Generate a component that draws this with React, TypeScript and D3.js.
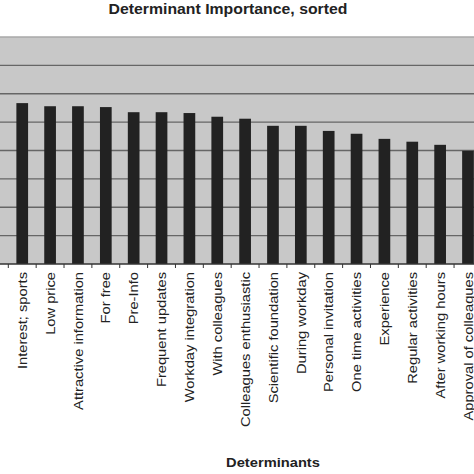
import React, { useEffect, useRef } from 'react';
import * as d3 from 'd3';

const categories: string[] = [
  'Interest; sports',
  'Low price',
  'Attractive information',
  'For free',
  'Pre-Info',
  'Frequent updates',
  'Workday integration',
  'With colleagues',
  'Colleagues enthusiastic',
  'Scientific foundation',
  'During workday',
  'Personal invitation',
  'One time activities',
  'Experience',
  'Regular activities',
  'After working hours',
  'Approval of colleagues',
];

const importance: number[] = [
  5.67, 5.56, 5.56, 5.53, 5.35, 5.35, 5.32, 5.19, 5.12, 4.87, 4.87, 4.69, 4.59, 4.41, 4.31, 4.2, 3.99,
];

const yTicks: number[] = [0, 1, 2, 3, 4, 5, 6, 7, 8];

const FONT = '"Liberation Sans", Arial, sans-serif';
const STRETCH = 1.13; // the reference text is a bit wider than Liberation Sans

const App: React.FC = () => {
  const svgRef = useRef<SVGSVGElement | null>(null);

  useEffect(() => {
    if (!svgRef.current) return;
    const width = 474;
    const height = 474;
    const plot = { left: 0, right: 474, top: 37, bottom: 264 };

    const svg = d3.select(svgRef.current);
    svg.selectAll('*').remove();

    const x = d3
      .scaleBand<string>()
      .domain(categories)
      .range([8.3, 8.3 + categories.length * 27.86])
      .paddingInner(0.58)
      .paddingOuter(0.29);

    const y = d3.scaleLinear().domain([0, 8]).range([plot.bottom, plot.top]);

    svg.append('rect').attr('width', width).attr('height', height).attr('fill', '#fff');

    // plot background
    svg
      .append('rect')
      .attr('x', plot.left)
      .attr('y', plot.top)
      .attr('width', plot.right - plot.left)
      .attr('height', plot.bottom - plot.top)
      .attr('fill', '#c8c8c8');

    // gridlines
    svg
      .append('g')
      .selectAll('line')
      .data(yTicks.slice(1))
      .join('line')
      .attr('x1', plot.left)
      .attr('x2', plot.right)
      .attr('y1', (d) => y(d))
      .attr('y2', (d) => y(d))
      .attr('stroke', (d) => (d === 8 ? '#a8a8a8' : '#666'))
      .attr('stroke-width', 1.3);

    // bars
    svg
      .append('g')
      .selectAll('rect')
      .data(categories)
      .join('rect')
      .attr('x', (d) => x(d)!)
      .attr('y', (_, i) => y(importance[i]))
      .attr('width', x.bandwidth())
      .attr('height', (_, i) => y(0) - y(importance[i]))
      .attr('fill', '#222');

    // x axis
    const step = x.step();
    const tickPos = d3.range(categories.length + 1).map((i) => 8.3 + i * step);
    svg
      .append('line')
      .attr('x1', plot.left)
      .attr('x2', plot.right)
      .attr('y1', plot.bottom)
      .attr('y2', plot.bottom)
      .attr('stroke', '#333')
      .attr('stroke-width', 1.3);
    svg
      .append('g')
      .selectAll('line')
      .data(tickPos)
      .join('line')
      .attr('x1', (d) => d)
      .attr('x2', (d) => d)
      .attr('y1', plot.bottom)
      .attr('y2', plot.bottom + 4)
      .attr('stroke', '#333')
      .attr('stroke-width', 1);

    // category labels
    svg
      .append('g')
      .selectAll('text')
      .data(categories)
      .join('text')
      .attr(
        'transform',
        (d) => `translate(${x(d)! + x.bandwidth() / 2},272) rotate(-90) scale(${STRETCH},1)`,
      )
      .attr('text-anchor', 'end')
      .attr('dominant-baseline', 'central')
      .attr('font-family', FONT)
      .attr('font-size', 13)
      .attr('fill', '#222')
      .text((d) => d);

    // titles
    svg
      .append('text')
      .attr('transform', `translate(228,13.5) scale(${STRETCH},1)`)
      .attr('text-anchor', 'middle')
      .attr('font-family', FONT)
      .attr('font-weight', 'bold')
      .attr('font-size', 14)
      .attr('fill', '#222')
      .text('Determinant Importance, sorted');

    svg
      .append('text')
      .attr('transform', `translate(273,467) scale(${STRETCH},1)`)
      .attr('text-anchor', 'middle')
      .attr('font-family', FONT)
      .attr('font-weight', 'bold')
      .attr('font-size', 13)
      .attr('fill', '#222')
      .text('Determinants');
  }, []);

  return (
    <svg
      ref={svgRef}
      width={474}
      height={474}
      style={{ position: 'absolute', left: 0, top: 0, display: 'block' }}
    ></svg>
  );
};

export default App;
